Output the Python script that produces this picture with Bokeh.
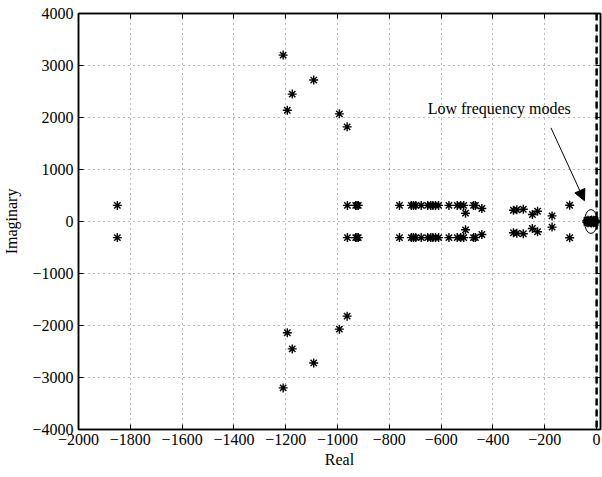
from bokeh.plotting import figure
from bokeh.models import (Range1d, LinearAxis, FixedTicker, Span, Label, Arrow,
                          NormalHead, CustomJSTickFormatter, ColumnDataSource)
from bokeh.embed import file_html
from bokeh.resources import INLINE

# ---- data (upper half-plane eigenvalues; mirrored for conjugates) ----
real_upper = [-1850, -1210, -1092, -1175, -1194, -993, -963,
              -962, -930, -925, -920,
              -761, -715, -707, -698, -677,
              -652, -640, -632, -622, -610,
              -570, -538, -525, -506, -513, -475, -468, -443,
              -321, -308, -283, -248, -228, -172, -104,
              -38, -33, -28, -24, -20, -16, -12, -8, -5]
imag_upper = [310, 3200, 2720, 2450, 2140, 2070, 1820,
              310, 310, 310, 310,
              310, 310, 310, 310, 310,
              310, 310, 310, 310, 310,
              310, 310, 310, 160, 310, 310, 310, 250,
              217, 225, 236, 135, 198, 108, 313,
              15, 25, 10, 20, 30, 12, 22, 8, 18]

real_all = real_upper + real_upper
imag_all = imag_upper + [-v for v in imag_upper]

x_ticks = list(range(-2000, 1, 200))
y_ticks = list(range(-4000, 4001, 1000))
x_lim = (-2000, 15)
y_lim = (-4000, 4000)

annot_text = "Low frequency modes"
annot_pos = (-652, 2180)
arrow_start = (-176, 1800)
arrow_end = (-47, 400)
ellipse_center = (-22, 0)
ellipse_size = (50, 460)

FONT = "Liberation Serif"

p = figure(width=602, height=477, output_backend="svg",
           toolbar_location=None,
           x_range=Range1d(*x_lim), y_range=Range1d(*y_lim),
           min_border_left=73, min_border_right=2, min_border_top=13,
           min_border_bottom=48, x_axis_label="Real", y_axis_label="Imaginary")
p.background_fill_color = "white"
p.border_fill_color = "white"
p.outline_line_color = "black"
p.outline_line_width = 1.5

for ax in (p.xaxis[0], p.yaxis[0]):
    ax.major_tick_in = 5
    ax.major_tick_out = 0
    ax.minor_tick_in = 0
    ax.minor_tick_out = 0
    ax.axis_line_width = 1.5
    ax.axis_line_color = "black"
    ax.major_tick_line_color = "black"
    ax.major_label_text_font = FONT
    ax.major_label_text_font_size = "16px"
    ax.major_label_text_color = "black"
    ax.axis_label_text_font = FONT
    ax.axis_label_text_font_size = "16px"
    ax.axis_label_text_font_style = "normal"
    ax.axis_label_text_color = "black"

p.xaxis[0].ticker = FixedTicker(ticks=x_ticks)
p.yaxis[0].ticker = FixedTicker(ticks=y_ticks)
p.xaxis[0].major_label_standoff = 4
p.yaxis[0].major_label_standoff = 5
p.xaxis[0].axis_label_standoff = 3
p.yaxis[0].axis_label_standoff = 9

# mirror axes (ticks only)
blank = CustomJSTickFormatter(code="return ''")
top = LinearAxis(ticker=FixedTicker(ticks=x_ticks), formatter=blank)
right = LinearAxis(ticker=FixedTicker(ticks=y_ticks), formatter=blank)
for ax in (top, right):
    ax.major_tick_in = 5
    ax.major_tick_out = 0
    ax.minor_tick_in = 0
    ax.minor_tick_out = 0
    ax.major_label_standoff = 0
    ax.axis_line_width = 1.5
    ax.axis_line_color = "black"
p.add_layout(top, "above")
p.add_layout(right, "right")

p.xgrid.ticker = FixedTicker(ticks=x_ticks)
p.ygrid.ticker = FixedTicker(ticks=y_ticks)
p.grid.grid_line_color = "black"
p.grid.grid_line_alpha = 0.55
p.grid.grid_line_dash = "1 4"
p.grid.grid_line_width = 1

src = ColumnDataSource(dict(x=real_all, y=imag_all))
p.scatter("x", "y", source=src, marker="asterisk", size=9,
          line_color="black", line_width=1.4)

p.add_layout(Span(location=0, dimension="height", line_color="black",
                  line_width=2.5, line_dash="7 4"))

p.ellipse(x=[ellipse_center[0]], y=[ellipse_center[1]],
          width=ellipse_size[0], height=ellipse_size[1],
          fill_color=None, line_color="black", line_width=1)

p.add_layout(Arrow(end=NormalHead(size=11, fill_color="black", line_color="black"),
                   x_start=arrow_start[0], y_start=arrow_start[1],
                   x_end=arrow_end[0], y_end=arrow_end[1],
                   line_color="black", line_width=1))

p.add_layout(Label(x=annot_pos[0], y=annot_pos[1], text=annot_text,
                   text_font=FONT, text_font_size="16px", text_color="black",
                   text_baseline="middle", text_align="left"))

open("out.html", "w").write(file_html(p, INLINE))
